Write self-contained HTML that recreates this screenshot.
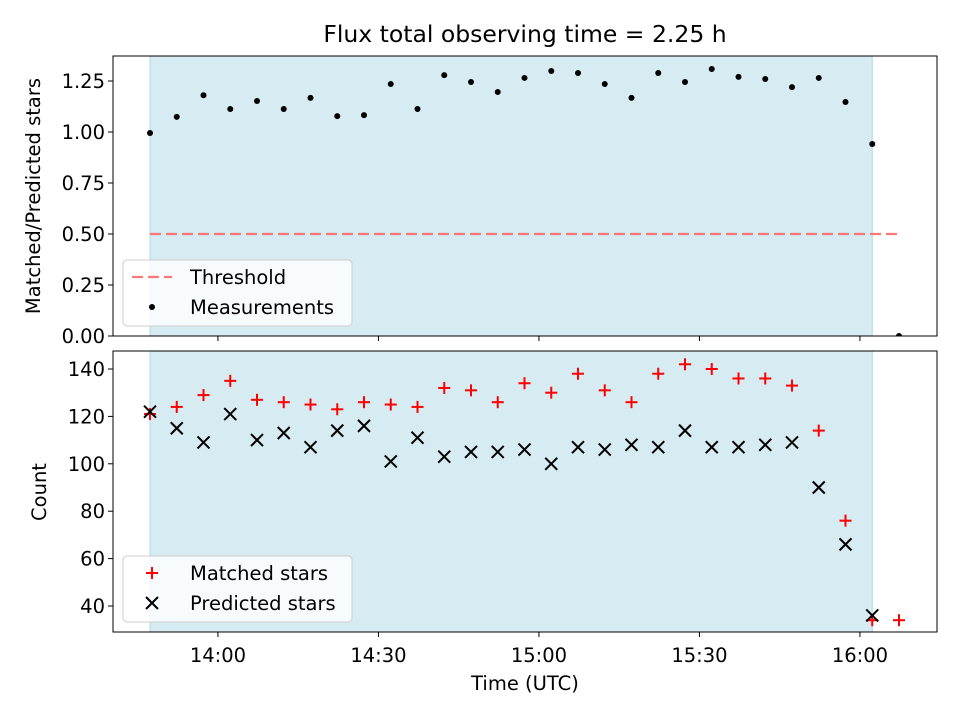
<!DOCTYPE html>
<html><head><meta charset="utf-8"><style>body{margin:0;background:#fff}svg{font-family:"DejaVu Sans","Liberation Sans",sans-serif}</style></head>
<body>
<svg id="c" width="960" height="720" xmlns="http://www.w3.org/2000/svg"></svg>
<script>
const minutes=[0,5,10,15,20,25,30,35,40,45,50,55,60,65,70,75,80,85,90,95,100,105,110,115,120,125,130,135,140];
const ratio=[0.995,1.074,1.18,1.113,1.152,1.113,1.167,1.078,1.083,1.235,1.113,1.279,1.245,1.196,1.265,1.299,1.289,1.235,1.167,1.289,1.245,1.309,1.27,1.26,1.22,1.265,1.147,0.941,0];
const matched=[121,124,129,135,127,126,125,123,126,125,124,132,131,126,134,130,138,131,126,138,142,140,136,136,133,114,76,34,34];
const predicted=[122,115,109,121,110,113,107,114,116,101,111,103,105,105,106,100,107,106,108,107,114,107,107,108,109,90,66,36,0];
const xTicks=["14:00","14:30","15:00","15:30","16:00"];
const xTickMin=[12.7,42.7,72.7,102.7,132.7];
const topTicks=["0.00","0.25","0.50","0.75","1.00","1.25"];
const botTicks=[40,60,80,100,120,140];
const threshold=0.5;

const NS="http://www.w3.org/2000/svg",svg=document.getElementById('c');
function el(t,a,p){const e=document.createElementNS(NS,t);for(const k in a)e.setAttribute(k,a[k]);(p||svg).appendChild(e);return e;}
const L=113,R=937,FS=19.5;
const x=m=>150+m*(160.5/30);
const yT=v=>336-v*204;
const yB=v=>369-(v-140)*2.37;
const defs=el('defs',{});
const cp1=el('clipPath',{id:'c1'},defs);el('rect',{x:L,y:56,width:R-L,height:280},cp1);
const cp2=el('clipPath',{id:'c2'},defs);el('rect',{x:L,y:351,width:R-L,height:281},cp2);

let t=el('text',{x:525,y:42,'font-size':23.5,'text-anchor':'middle'});t.textContent="Flux total observing time = 2.25 h";


[[56,280],[351,281]].forEach(([y0,h],i)=>{const r=el('rect',{x:x(minutes[0]),y:y0,width:x(minutes[27])-x(minutes[0]),height:h,fill:'#add8e6','fill-opacity':0.5,stroke:'#add8e6'});
});

const gT=el('g',{'clip-path':'url(#c1)'});
const th=el('line',{x1:x(minutes[0]),x2:x(minutes[28]),y1:yT(threshold),y2:yT(threshold),stroke:'#ff7777','stroke-width':2.2,'stroke-dasharray':'11,5'},gT);

ratio.forEach((v,i)=>{const c=el('circle',{cx:x(minutes[i]),cy:yT(v),r:3,fill:'#000'},gT);
});
const gB=el('g',{'clip-path':'url(#c2)'});
matched.forEach((v,i)=>{const cx=x(minutes[i]),cy=yB(v);const g=el('g',{stroke:'red','stroke-width':2},gB);

el('line',{x1:cx-6,x2:cx+6,y1:cy,y2:cy},g);el('line',{x1:cx,x2:cx,y1:cy-6,y2:cy+6},g);});
predicted.forEach((v,i)=>{const cx=x(minutes[i]),cy=yB(v);const g=el('g',{stroke:'#000','stroke-width':2},gB);

el('line',{x1:cx-6,x2:cx+6,y1:cy-6,y2:cy+6},g);el('line',{x1:cx-6,x2:cx+6,y1:cy+6,y2:cy-6},g);});

[[56,280],[351,281]].forEach(([y0,h])=>el('rect',{x:L,y:y0,width:R-L,height:h,fill:'none',stroke:'#000','stroke-width':1}));
topTicks.forEach(s=>{const y=yT(parseFloat(s));el('line',{x1:L-5,x2:L,y1:y,y2:y,stroke:'#000'});
const tx=el('text',{x:L-8,y:y+7,'font-size':FS,'text-anchor':'end'});tx.textContent=s;
});
botTicks.forEach(v=>{const y=yB(v);el('line',{x1:L-5,x2:L,y1:y,y2:y,stroke:'#000'});
const tx=el('text',{x:L-8,y:y+7,'font-size':FS,'text-anchor':'end'});tx.textContent=v;
});
xTicks.forEach((s,i)=>{const xx=x(xTickMin[i]);el('line',{x1:xx,x2:xx,y1:336,y2:341,stroke:'#000'});el('line',{x1:xx,x2:xx,y1:632,y2:637,stroke:'#000'});
const tx=el('text',{x:xx,y:662,'font-size':FS,'text-anchor':'middle'});tx.textContent=s;
});
t=el('text',{x:525,y:690,'font-size':FS,'text-anchor':'middle'});t.textContent="Time (UTC)";
t=el('text',{x:0,y:0,'font-size':FS,'text-anchor':'middle',transform:'translate(40,196) rotate(-90)'});t.textContent="Matched/Predicted stars";
t=el('text',{x:0,y:0,'font-size':FS,'text-anchor':'middle',transform:'translate(46,492) rotate(-90)'});t.textContent="Count";

function legend(y0,h,items,name){const g=el('g',{});
el('rect',{x:123,y:y0,width:229,height:h,rx:4,fill:'#fff','fill-opacity':0.8,stroke:'#ccc'},g);
items.forEach((it,i)=>{const cy=y0+17+i*30;it.m(g,152,cy);const tx=el('text',{x:190,y:cy+7,'font-size':FS},g);tx.textContent=it.t;});}
legend(260,66,[{t:'Threshold',m:(g,cx,cy)=>el('line',{x1:cx-20,x2:cx+20,y1:cy,y2:cy,stroke:'#ff7777','stroke-width':2.2,'stroke-dasharray':'11,5'},g)},
{t:'Measurements',m:(g,cx,cy)=>el('circle',{cx:cx,cy:cy,r:3,fill:'#000'},g)}],'legend-top');
legend(556,66,[{t:'Matched stars',m:(g,cx,cy)=>{el('line',{x1:cx-6,x2:cx+6,y1:cy,y2:cy,stroke:'red','stroke-width':2},g);el('line',{x1:cx,x2:cx,y1:cy-6,y2:cy+6,stroke:'red','stroke-width':2},g);}},
{t:'Predicted stars',m:(g,cx,cy)=>{el('line',{x1:cx-6,x2:cx+6,y1:cy-6,y2:cy+6,stroke:'#000','stroke-width':2},g);el('line',{x1:cx-6,x2:cx+6,y1:cy+6,y2:cy-6,stroke:'#000','stroke-width':2},g);}}],'legend-bottom');
</script>
</body></html>
